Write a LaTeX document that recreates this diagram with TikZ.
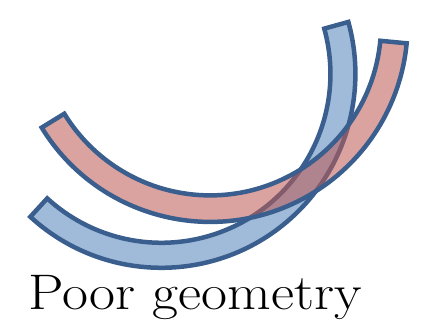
\documentclass[tikz,border=0pt]{standalone}
\usetikzlibrary{calc}
\definecolor{bandblue}{HTML}{A0BBDA}
\definecolor{bandred}{RGB}{190,88,82}
\definecolor{edgeblue}{HTML}{3A5F8E}
\tikzset{
  band/.style={draw=edgeblue, line width=4.5pt},
  bblue/.style={band, fill=bandblue},
  bred/.style={band, fill=bandred, fill opacity=0.55},
  caption/.style={font=\fontsize{50}{50}\selectfont, anchor=base west, inner sep=0pt, xscale=1.13}
}

\begin{document}
\begin{tikzpicture}[x=1pt, y=1pt]
		\useasboundingbox (0,0) rectangle (422,320);
		\clip (0,0) rectangle (422,320);
		\coordinate (cb) at (161.4,246.2);
		\coordinate (cr) at (210.1,295.6);
		% lower band
		\draw[bblue] ($(cb)+(227.5:194)$) arc[start angle=227.5, end angle=375.5, radius=194]
			-- ($(cb)+(375.5:169)$) arc[start angle=375.5, end angle=227.5, radius=169] -- cycle;
		% upper band
		\draw[bred] ($(cr)+(211.5:197.5)$) arc[start angle=211.5, end angle=354.5, radius=197.5]
			-- ($(cr)+(354.5:171)$) arc[start angle=354.5, end angle=211.5, radius=171] -- cycle;
		\node[caption] (title) at (28,10) {Poor geometry};
	\end{tikzpicture}
\end{document}
